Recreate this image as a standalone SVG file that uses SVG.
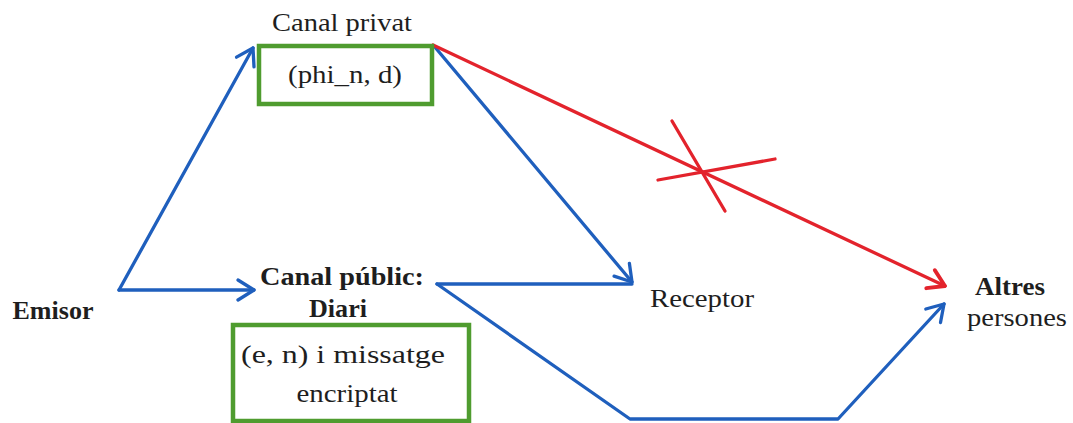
<svg xmlns="http://www.w3.org/2000/svg" width="1073" height="423" viewBox="0 0 1073 423">
<style>
.t{fill:#1e1e1e;text-anchor:middle}
.b{font-weight:bold}
.box{fill:none;stroke:#4f9c2f;stroke-width:4.5}
.bl{fill:none;stroke:#1f5fbd;stroke-width:3.3;stroke-linecap:round;stroke-linejoin:round}
.rd{fill:none;stroke:#e3232c;stroke-width:3.3;stroke-linecap:round}
</style>
<defs>
<marker id="ab" markerUnits="userSpaceOnUse" viewBox="-20 -15 30 30" markerWidth="30" markerHeight="30" refX="0" refY="0" orient="auto">
<path d="M-16,-10 L0,0 L-16,10" fill="none" stroke="#1f5fbd" stroke-width="3.3" stroke-linecap="round" stroke-linejoin="round"/>
</marker>
<marker id="ar" markerUnits="userSpaceOnUse" viewBox="-20 -15 30 30" markerWidth="30" markerHeight="30" refX="0" refY="0" orient="auto">
<path d="M-16,-10 L0,0 L-16,10" fill="none" stroke="#e3232c" stroke-width="3.8" stroke-linecap="round" stroke-linejoin="round"/>
</marker>
</defs>
<rect width="1073" height="423" fill="#fff"/>
<g id="connectors">
<path class="bl" d="M119,290 L253,48" marker-end="url(#ab)"/>
<path class="bl" d="M119,290 L254,290" marker-end="url(#ab)"/>
<path class="bl" d="M434,46 L632,282" marker-end="url(#ab)"/>
<path class="bl" d="M437,284 L632,284"/>
<path class="bl" d="M437,284 L630,419 L838,419 L944,304" marker-end="url(#ab)"/>
<path class="rd" d="M433,45 L945,286" marker-end="url(#ar)"/>
<path class="rd" d="M672,121 L725,211"/>
<path class="rd" d="M658,180 L775,159"/>
</g>
<g id="canal-privat" font-family="Liberation Serif, serif">
<text class="t" x="342" y="31" font-size="25" textLength="140" lengthAdjust="spacingAndGlyphs">Canal privat</text>
<rect class="box" x="259" y="46" width="173" height="58"/>
<text class="t" x="345" y="83" font-size="26" textLength="114" lengthAdjust="spacingAndGlyphs">(phi_n, d)</text>
</g>
<g id="emisor" font-family="Liberation Serif, serif">
<text class="t b" x="53" y="319" font-size="25" textLength="81" lengthAdjust="spacingAndGlyphs">Emisor</text>
</g>
<g id="canal-public" font-family="Liberation Serif, serif">
<text class="t b" x="342" y="285" font-size="25" textLength="164" lengthAdjust="spacingAndGlyphs">Canal públic:</text>
<text class="t b" x="338" y="317" font-size="25" textLength="58" lengthAdjust="spacingAndGlyphs">Diari</text>
<rect class="box" x="233" y="325" width="236" height="96"/>
<text class="t" x="343" y="363" font-size="26" textLength="204" lengthAdjust="spacingAndGlyphs">(e, n) i missatge</text>
<text class="t" x="347" y="402" font-size="26" textLength="101" lengthAdjust="spacingAndGlyphs">encriptat</text>
</g>
<g id="receptor" font-family="Liberation Serif, serif">
<text class="t" x="702" y="307" font-size="26" textLength="104" lengthAdjust="spacingAndGlyphs">Receptor</text>
</g>
<g id="altres" font-family="Liberation Serif, serif">
<text class="t b" x="1010" y="295" font-size="25" textLength="70" lengthAdjust="spacingAndGlyphs">Altres</text>
<text class="t" x="1017" y="326" font-size="26" textLength="100" lengthAdjust="spacingAndGlyphs">persones</text>
</g>
</svg>
